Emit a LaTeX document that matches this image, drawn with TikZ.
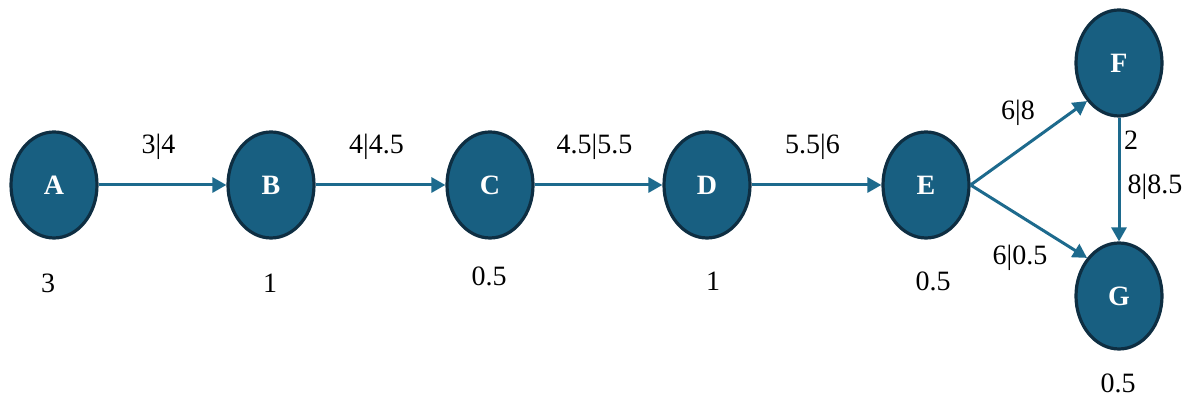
\documentclass[tikz,border=0pt]{standalone}
\usepackage{fontspec}
\setmainfont{Liberation Serif}
\usetikzlibrary{arrows.meta,shapes.geometric}

\definecolor{taskfill}{HTML}{185F81}
\definecolor{taskline}{HTML}{0E2E42}
\definecolor{linkblue}{HTML}{1D6A8D}

\begin{document}
\begin{tikzpicture}[x=0.5pt,y=0.5pt,font=\fontsize{14}{16}\selectfont,
  task/.style={ellipse,draw=taskline,line width=1.6pt,fill=taskfill,
    minimum width=43pt,minimum height=53pt,inner sep=0pt,text=white,
    font=\fontsize{14}{16}\selectfont\bfseries},
  link/.style={draw=linkblue,line width=1.5pt,-{Triangle[length=7pt,width=7.5pt]}},
  tag/.style={inner sep=1pt}]
  \useasboundingbox (0,0) rectangle (1190,-399);
  % activities
  \foreach \n/\x in {A/54,B/271,C/490,D/707,E/926}
    \node[task] (\n) at (\x,-185) {\n};
  \node[task] (F) at (1119,-63) {F};
  \node[task] (G) at (1119,-296) {G};
  % durations
  \foreach \n/\x/\y/\d in {A/48/283/3,B/270/283/1,C/489/276/0.5,D/713/281/1,E/933/281/0.5,G/1118/383/0.5}
    \node[tag] (d\n) at (\x,-\y) {\d};
  % links with start|finish
  \draw[link] (A) -- node[tag,yshift=19pt,xshift=-2pt] (lAB) {3|4} (B);
  \draw[link] (B) -- node[tag,yshift=19pt,xshift=-2pt] (lBC) {4|4.5} (C);
  \draw[link] (C) -- node[tag,yshift=19pt,xshift=-2pt] (lCD) {4.5|5.5} (D);
  \draw[link] (D) -- node[tag,yshift=19pt,xshift=-2pt] (lDE) {5.5|6} (E);
  \draw[link] (E.east) -- (F.230);
  \draw[link] (E.east) -- (G.130);
  \draw[link] (F) -- (G);
  \node[tag] (lEF) at (1018,-113) {6|8};
  \node[tag] (lEG) at (1020,-258) {6|0.5};
  \node[tag] (dF) at (1131,-140) {2};
  \node[tag] (lFG) at (1155,-187) {8|8.5};
\end{tikzpicture}
\end{document}
